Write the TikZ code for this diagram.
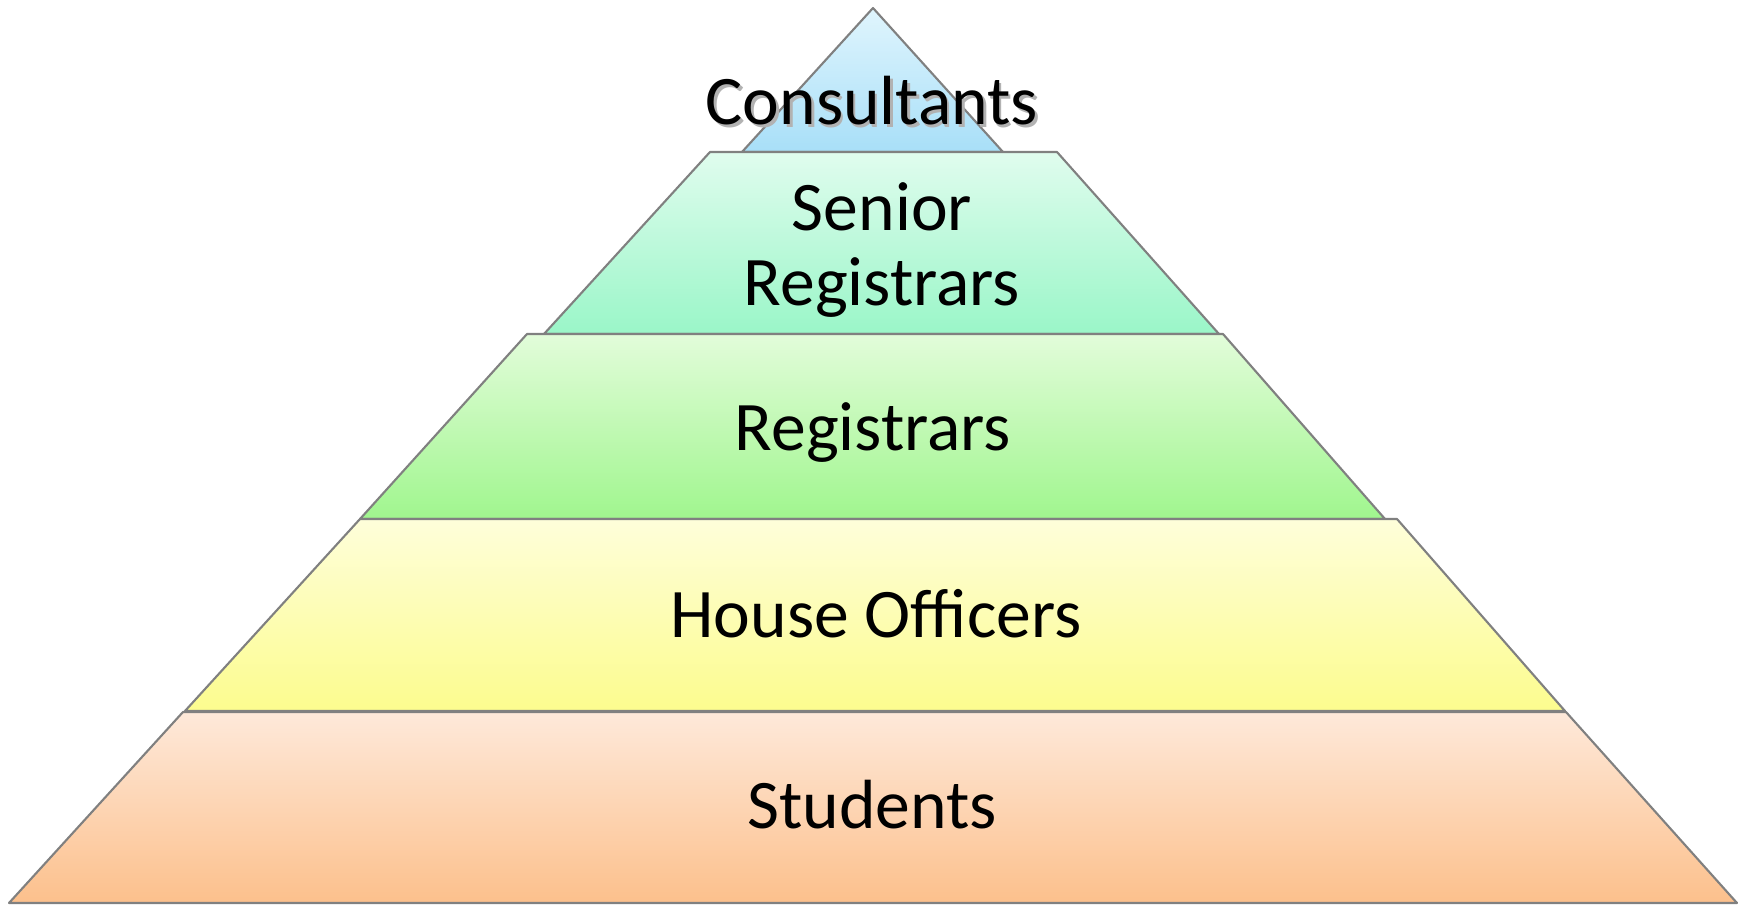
\documentclass[tikz,border=0pt]{standalone}
\usepackage{fontspec}
\setmainfont{Carlito}
\definecolor{edgegray}{RGB}{128,128,128}
\definecolor{consTop}{RGB}{224,245,253}
\definecolor{consBot}{RGB}{168,223,248}
\definecolor{senTop}{RGB}{224,252,238}
\definecolor{senBot}{RGB}{154,246,200}
\definecolor{regTop}{RGB}{226,252,218}
\definecolor{regBot}{RGB}{160,246,142}
\definecolor{houTop}{RGB}{254,254,218}
\definecolor{houBot}{RGB}{252,252,142}
\definecolor{stuTop}{RGB}{254,233,218}
\definecolor{stuBot}{RGB}{252,192,140}
\newcommand{\shadowlabel}[1]{\makebox[0pt][l]{\hspace{0.7pt}\raisebox{-0.7pt}{\color{black!30}#1}}#1}
\begin{document}
\begin{tikzpicture}[
    tier/.style={draw=edgegray,line width=0.6pt,line join=round},
    label/.style={font=\fontsize{19.8}{21.5}\selectfont,inner sep=0pt,align=center}
]
    \useasboundingbox (0,0) rectangle (17.48,9.06);

    % Define tiers
    \path[tier,top color=consTop,bottom color=consBot] (8.73,8.98) -- (10.03,7.54) -- (7.42,7.54) -- cycle;
    \path[tier,top color=senTop,bottom color=senBot] (7.10,7.54) -- (10.57,7.54) -- (12.19,5.72) -- (5.44,5.72) -- cycle;
    \path[tier,top color=regTop,bottom color=regBot] (5.27,5.72) -- (12.23,5.72) -- (13.85,3.87) -- (3.60,3.87) -- cycle;
    \path[tier,top color=houTop,bottom color=houBot] (3.60,3.87) -- (13.97,3.87) -- (15.65,1.95) -- (1.85,1.95) -- cycle;
    \path[tier,top color=stuTop,bottom color=stuBot] (1.83,1.94) -- (15.66,1.94) -- (17.37,0.03) -- (0.09,0.03) -- cycle;

    % Define nodes
    \node[label,anchor=base] (consultants) at (8.72,7.81) {\shadowlabel{Consultants}};
    \node[label] (senior) at (8.82,6.56) {Senior\\Registrars};
    \node[label,anchor=base] (registrars) at (8.73,4.55) {Registrars};
    \node[label,anchor=base] (house) at (8.76,2.68) {House Officers};
    \node[label,anchor=base] (students) at (8.72,0.77) {Students};
\end{tikzpicture}
\end{document}
